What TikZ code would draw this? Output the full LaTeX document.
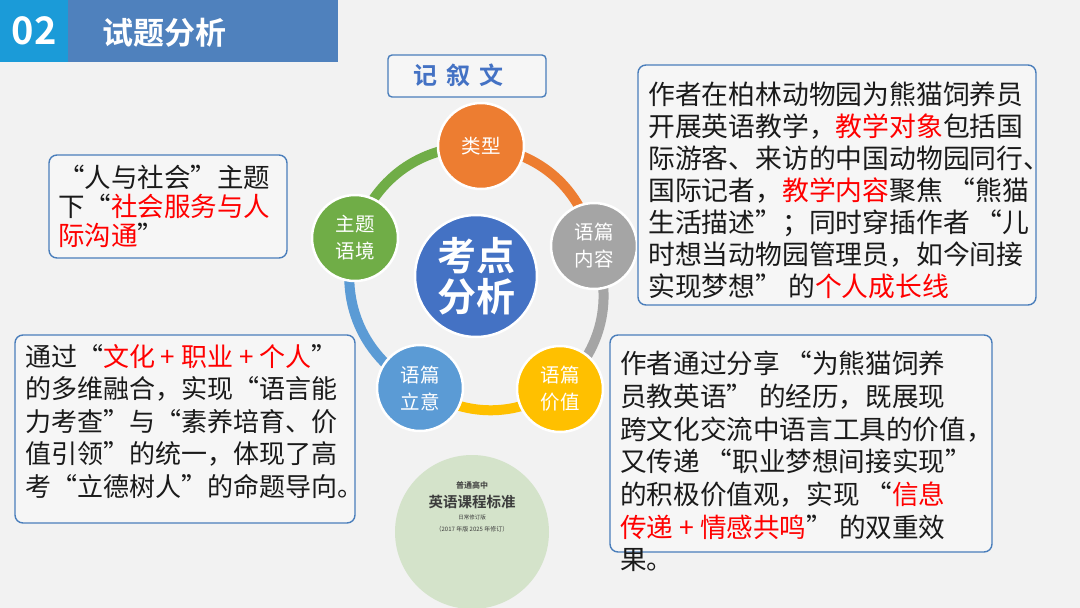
\documentclass[tikz,border=0pt]{standalone}
\usepackage{fontspec}
\newfontfamily\cjk{Noto Sans CJK SC}
\newfontfamily\cjkb{Noto Sans CJK SC Bold}
\usetikzlibrary{backgrounds}

\definecolor{pagegray}{HTML}{F2F2F2}
\definecolor{numcyan}{HTML}{1B9BD8}
\definecolor{barblue}{HTML}{4F81BD}
\definecolor{boxblue}{HTML}{4A7EBB}
\definecolor{boxfill}{HTML}{F6F6F6}
\definecolor{genreblue}{HTML}{4472C4}
\definecolor{coreblue}{HTML}{4472C4}
\definecolor{typeorange}{HTML}{ED7D31}
\definecolor{contentgray}{HTML}{A5A5A5}
\definecolor{valueyellow}{HTML}{FFC000}
\definecolor{intentblue}{HTML}{5B9BD5}
\definecolor{themegreen}{HTML}{70AD47}
\definecolor{bookgreen}{HTML}{D4E3CA}
\definecolor{inkblack}{HTML}{1A1A1A}

\newcommand\redtxt[1]{\textcolor{red}{#1}}

\begin{document}
\begin{tikzpicture}[x=1pt,y=-1pt,
  topic node/.style={circle,draw=white,line width=2.5pt,minimum size=86pt,inner sep=0pt,
    text=white,align=center,font=\cjk\fontsize{19.5}{27}\selectfont},
  ring/.style={line width=10pt},
  note box/.style={draw=boxblue,line width=1.4pt,fill=boxfill,rounded corners=8pt,inner sep=0pt},
  note text/.style={anchor=north west,inner sep=0pt,align=left,text=inkblack,
    font=\cjk\fontsize{26}{32.5}\selectfont},
  book text/.style={inner sep=0pt,text=inkblack!85}]

  \useasboundingbox (0,0) rectangle (1080,608);
  \clip (0,0) rectangle (1080,608);

  \node[fill=numcyan,minimum width=68pt,minimum height=62pt,inner sep=0pt,anchor=north west] (numbox) at (0,0) {};
  \node[fill=barblue,minimum width=270pt,minimum height=62pt,inner sep=0pt,anchor=north west] (titlebar) at (68,0) {};
  \node[text=white,font=\cjkb\fontsize{38}{38}\selectfont] (num) at (numbox.center) {02};
  \node[text=white,font=\cjkb\fontsize{31}{31}\selectfont] (title) at (164,33) {试题分析};

  \node[note box,rounded corners=4pt,minimum width=158pt,minimum height=42pt] (genre) at (467,76) {};
  \node[text=genreblue,font=\cjkb\fontsize{24}{24}\selectfont,anchor=west] (genretext) at (410,75) {记\hspace{9pt}叙\hspace{9pt}文};

  \node[topic node,fill=coreblue,minimum size=122pt,font=\cjkb\fontsize{39}{41}\selectfont] (core) at (476,276) {考点\\分析};
  \node[topic node,fill=typeorange] (type) at (481,146) {类型};
  \node[topic node,fill=contentgray] (content) at (594,246) {语篇\\内容};
  \node[topic node,fill=valueyellow] (value) at (560,389) {语篇\\价值};
  \node[topic node,fill=intentblue] (intent) at (420,388) {语篇\\立意};
  \node[topic node,fill=themegreen] (theme) at (355,238) {主题\\语境};

  \node[circle,fill=bookgreen,minimum size=154pt,inner sep=0pt] (book) at (472,532) {};
  \node[book text,font=\cjkb\fontsize{8}{8}\selectfont] (booklevel) at (472,485) {普通高中};
  \node[book text,font=\cjkb\fontsize{14.5}{14.5}\selectfont] (booktitle) at (472,502) {英语课程标准};
  \node[book text,font=\cjk\fontsize{5.5}{5.5}\selectfont] (bookedition) at (472,517) {日常修订版};
  \node[book text,font=\cjk\fontsize{6}{6}\selectfont] (bookyear) at (472,529) {（2017 年版 2025 年修订）};

  \node[note box,minimum width=238pt,minimum height=103pt] (themebox) at (168,206.5) {};
  \node[note text,font=\cjk\fontsize{26.5}{29}\selectfont] (themetext) at (58,165) {“人与社会”主题\\下“\redtxt{社会服务与人}\\\redtxt{际沟通}”};

  \node[note box,minimum width=398pt,minimum height=240pt] (contentbox) at (837,185) {};
  \node[note text,font=\cjk\fontsize{26.8}{32}\selectfont] (contenttext) at (648,82) {作者在柏林动物园为熊猫饲养员\\开展英语教学，\redtxt{教学对象}包括国\\际游客、来访的中国动物园同行、\\国际记者，\redtxt{教学内容}聚焦 “熊猫\\生活描述”；同时穿插作者 “儿\\时想当动物园管理员，如今间接\\实现梦想” 的\redtxt{个人成长线}};

  \node[note box,minimum width=340pt,minimum height=188pt] (intentbox) at (185,429) {};
  \node[note text] (intenttext) at (25,344) {通过“\redtxt{文化 + 职业 + 个人}”\\的多维融合，实现“语言能\\力考查”与“素养培育、价\\值引领”的统一，体现了高\\考“立德树人”的命题导向。};

  \node[note box,minimum width=382pt,minimum height=217pt] (valuebox) at (801,443.5) {};
  \node[note text,font=\cjk\fontsize{26.6}{32.7}\selectfont] (valuetext) at (620,351) {作者通过分享 “为熊猫饲养\\员教英语” 的经历，既展现\\跨文化交流中语言工具的价值，\\又传递 “职业梦想间接实现”\\的积极价值观，实现 “\redtxt{信息}\\\redtxt{传递 + 情感共鸣}” 的双重效\\果。};

  \begin{scope}[on background layer]
    \fill[pagegray] (0,0) rectangle (1080,608);
    \path[ring]
      (type.center) edge[draw=typeorange,bend left=36] (content.center)
      (content.center) edge[draw=contentgray,bend left=34] (value.center)
      (value.center) edge[draw=valueyellow,bend left=32] (intent.center)
      (intent.center) edge[draw=intentblue,bend left=40] (theme.center)
      (theme.center) edge[draw=themegreen,bend left=37] (type.center);
  \end{scope}
\end{tikzpicture}
\end{document}
